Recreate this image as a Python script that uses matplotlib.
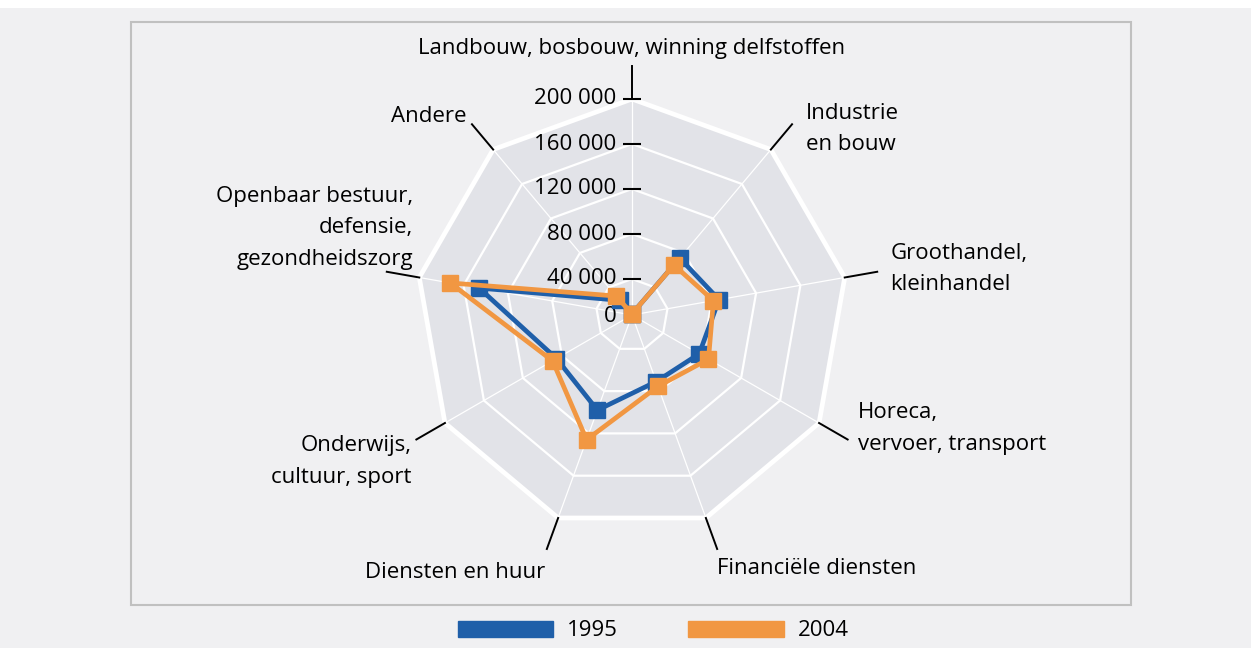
import numpy as np
import matplotlib

matplotlib.use('Agg')
import matplotlib.pyplot as plt
from matplotlib.patches import Rectangle, Patch

plt.rcParams['font.family'] = ['Open Sans', 'DejaVu Sans']

categories = ['Landbouw, bosbouw, winning delfstoffen', 'Industrie\nen bouw',
              'Groothandel,\nkleinhandel', 'Horeca,\nvervoer, transport',
              'Financiële diensten', 'Diensten en huur',
              'Onderwijs,\ncultuur, sport',
              'Openbaar bestuur,\ndefensie,\ngezondheidszorg', 'Andere']
v1995 = [9000, 74000, 86500, 77000, 71000, 98000, 85500, 146000, 25000]
v2004 = [9000, 66000, 81500, 86500, 75500, 126000, 89500, 172000, 30000]
years = ['1995', '2004']
ticks = [40000, 80000, 120000, 160000, 200000]

blue = '#1f5fa9'
orange = '#f19742'
bg = '#f0f0f2'
web = '#e2e3e8'

rmin = 8000
rmax = 200000
px = (rmax - rmin) / 216.0   # data units per pixel along the radius

n = len(categories)
theta = np.arange(n) * 2 * np.pi / n
thc = np.append(theta, theta[0])

fig = plt.figure(figsize=(12.51, 6.48), dpi=100, facecolor=bg)
fig.patches.append(Rectangle((0, 1 - 8 / 648), 1, 8 / 648, transform=fig.transFigure,
                             facecolor='white', edgecolor='none', zorder=-5))
fig.patches.append(Rectangle((131 / 1251, 1 - 605 / 648), 1000 / 1251, 583 / 648,
                             transform=fig.transFigure, facecolor='none',
                             edgecolor='#c0c0c0', linewidth=1.5))

ax = fig.add_axes([416 / 1251, (333 - 216) / 648, 432 / 1251, 432 / 648],
                  projection='polar')
ax.set_theta_zero_location('N')
ax.set_theta_direction(-1)
ax.set_ylim(rmin, rmax)
ax.set_facecolor('none')
ax.spines['polar'].set_visible(False)
ax.grid(False)
ax.set_xticks([])
ax.set_yticks([])

# web background, rings and spokes
ax.fill(thc, [rmax] * (n + 1), color=web, zorder=0)
for t in ticks[:-1]:
    ax.plot(thc, [t] * (n + 1), color='white', lw=1.6, zorder=1)
ax.plot(thc, [rmax] * (n + 1), color='white', lw=3.4, zorder=1, clip_on=False)
for th in theta:
    ax.plot([th, th], [rmin, rmax], color='white', lw=0.9, zorder=1)

# leaders to the labels
rlead = rmax + 33 * px
for th in theta:
    ax.plot([th, th], [rmax, rlead], color='black', lw=1.4, clip_on=False, zorder=2)

# radial ticks on the top spoke
for t in ticks:
    ax.plot(0, t, marker='_', markersize=13, mew=1.5, color='black', zorder=3,
            clip_on=False)
    ax.annotate(f'{t:,}'.replace(',', ' '), xy=(0, t), xytext=(-11, 0),
                textcoords='offset points', ha='right', va='center', fontsize=16)
ax.annotate('0', xy=(0, rmin), xytext=(-11, -1), textcoords='offset points',
            ha='right', va='center', fontsize=16)

# category labels: (dx, dy) offsets in pixels, alignment
offsets = [(0, 7, 'center', 'bottom'), (14, -5, 'left', 'center'),
           (13, 3, 'left', 'center'), (10, 11, 'left', 'center'),
           (0, -20, 'left', 'center'), (-2, -24, 'right', 'center'),
           (-5, -22, 'right', 'center'), (26, 44, 'right', 'center'),
           (-5, 8, 'right', 'center')]
for th, lab, (dx, dy, ha, va) in zip(theta, categories, offsets):
    t = ax.annotate(lab, xy=(th, rlead), xytext=(dx * 0.72, dy * 0.72),
                    textcoords='offset points', ha=ha, va=va, fontsize=16,
                    annotation_clip=False)
    t.set_linespacing(1.65)

# series
for vals, col, z in [(v1995, blue, 4), (v2004, orange, 5)]:
    ax.plot(thc, vals + vals[:1], color=col, lw=3.4, marker='s', markersize=12,
            zorder=z, clip_on=False)

handles = [Patch(color=blue), Patch(color=orange)]
fig.legend(handles, years, loc='center', bbox_to_anchor=(653 / 1251, 1 - 631 / 648),
           ncol=2, frameon=False, fontsize=16, handlelength=4.3, handleheight=0.7,
           handletextpad=0.6, columnspacing=3.2)

fig.savefig('out.png', dpi=100, facecolor=bg)
